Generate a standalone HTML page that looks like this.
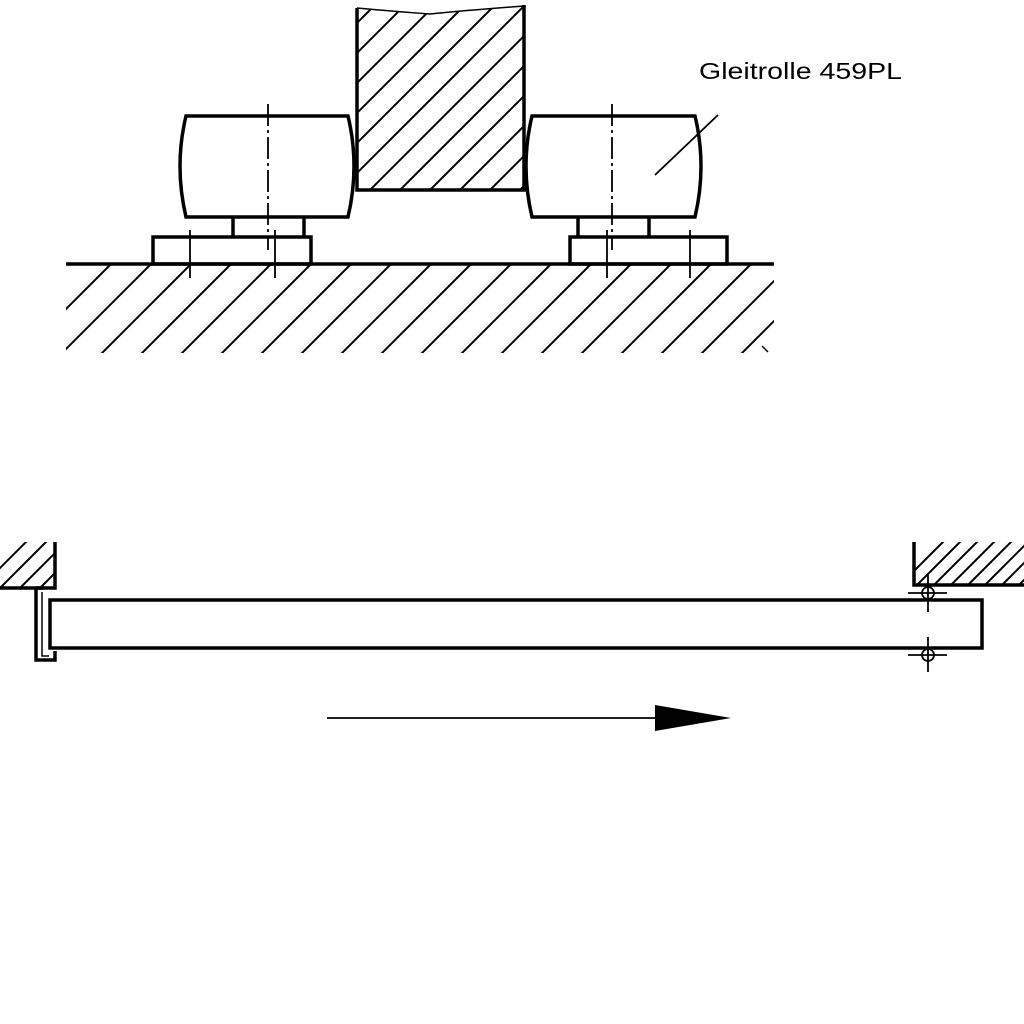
<!DOCTYPE html>
<html><head><meta charset="utf-8"><style>html,body{margin:0;padding:0;background:#fff}svg{display:block}</style></head>
<body>
<svg width="1024" height="1024" viewBox="0 0 1024 1024" xmlns="http://www.w3.org/2000/svg">
<defs>
<clipPath id="cb"><path d="M357,8 Q400,12 430,14 Q470,10 524,6 L524,190 L357,190 Z"/></clipPath>
<clipPath id="gr"><rect x="66" y="265" width="708" height="88"/></clipPath>
<clipPath id="lw"><rect x="0" y="542" width="55" height="46"/></clipPath>
<clipPath id="rw"><rect x="914" y="542" width="110" height="43"/></clipPath>
</defs>
<g stroke="#000" fill="none" stroke-width="2">
<g clip-path="url(#cb)">
<line x1="300" y1="230" x2="540" y2="-10"/><line x1="330" y1="230" x2="570" y2="-10"/><line x1="360" y1="230" x2="600" y2="-10"/><line x1="390" y1="230" x2="630" y2="-10"/><line x1="420" y1="230" x2="660" y2="-10"/><line x1="450" y1="230" x2="690" y2="-10"/><line x1="480" y1="230" x2="720" y2="-10"/><line x1="510" y1="230" x2="750" y2="-10"/><line x1="270" y1="230" x2="510" y2="-10"/><line x1="240" y1="230" x2="480" y2="-10"/><line x1="210" y1="230" x2="450" y2="-10"/><line x1="180" y1="230" x2="420" y2="-10"/><line x1="150" y1="230" x2="390" y2="-10"/>
</g>
<g clip-path="url(#gr)">
<line x1="20" y1="355" x2="110" y2="265"/><line x1="60" y1="355" x2="150" y2="265"/><line x1="100" y1="355" x2="190" y2="265"/><line x1="140" y1="355" x2="230" y2="265"/><line x1="180" y1="355" x2="270" y2="265"/><line x1="220" y1="355" x2="310" y2="265"/><line x1="260" y1="355" x2="350" y2="265"/><line x1="300" y1="355" x2="390" y2="265"/><line x1="340" y1="355" x2="430" y2="265"/><line x1="380" y1="355" x2="470" y2="265"/><line x1="420" y1="355" x2="510" y2="265"/><line x1="460" y1="355" x2="550" y2="265"/><line x1="500" y1="355" x2="590" y2="265"/><line x1="540" y1="355" x2="630" y2="265"/><line x1="580" y1="355" x2="670" y2="265"/><line x1="620" y1="355" x2="710" y2="265"/><line x1="660" y1="355" x2="750" y2="265"/><line x1="700" y1="355" x2="790" y2="265"/><line x1="740" y1="355" x2="830" y2="265"/>
</g>
<g clip-path="url(#lw)">
<line x1="-20" y1="588" x2="30" y2="538"/><line x1="0" y1="588" x2="50" y2="538"/><line x1="20" y1="588" x2="70" y2="538"/><line x1="40" y1="588" x2="90" y2="538"/>
</g>
<g clip-path="url(#rw)">
<line x1="900" y1="585" x2="945" y2="540"/><line x1="917" y1="585" x2="962" y2="540"/><line x1="934" y1="585" x2="979" y2="540"/><line x1="951" y1="585" x2="996" y2="540"/><line x1="968" y1="585" x2="1013" y2="540"/><line x1="985" y1="585" x2="1030" y2="540"/><line x1="1002" y1="585" x2="1047" y2="540"/><line x1="1019" y1="585" x2="1064" y2="540"/>
</g>
</g>
<g stroke="#000" fill="none" stroke-width="3.5">
<path d="M357,8 L357,190 L524,190 L524,5"/>
<path d="M357,8 Q400,12 430,14 Q470,10 524,6" stroke-width="1.5"/>
<path d="M186,116 L348,116 Q360,166 348,217 L186,217 Q174,166 186,116 Z"/>
<path d="M233,217 V237 M304,217 V237"/>
<rect x="153" y="237" width="158" height="27"/>
<path d="M532,116 L695,116 Q707,166 695,217 L532,217 Q520,166 532,116 Z"/>
<path d="M578,217 V237 M649,217 V237"/>
<rect x="570" y="237" width="157" height="27"/>
<line x1="66" y1="264" x2="774" y2="264"/>
<line x1="762" y1="346" x2="768" y2="352" stroke-width="1.5"/>
<rect x="50" y="600" width="932" height="48"/>
<path d="M55,542 V588 H0"/>
<path d="M36,588 V660 H55 V651 M36,588 H44"/>
<path d="M42,592 V656 H49" stroke-width="1.5"/>
<path d="M914,542 V585 H1024"/>
</g>
<g stroke="#000" fill="none" stroke-width="1.8">
<path d="M268,104 V250" stroke-dasharray="22,4,3,4"/>
<path d="M612,104 V250" stroke-dasharray="22,4,3,4"/>
<path d="M190,230 V278 M275,230 V278 M607,230 V278 M690,230 V278"/>
<line x1="718" y1="115" x2="655" y2="175"/>
<circle cx="928" cy="593" r="6"/><circle cx="928" cy="655" r="6"/>
<path d="M908,593 H947 M928,575 V612 M908,655 H947 M928,637 V672"/>
<line x1="327" y1="718" x2="665" y2="718"/>
</g>
<path d="M655,705 L731,718 L655,731 Z" fill="#000"/>
<text x="699" y="79" font-family="Liberation Sans, sans-serif" font-size="23" textLength="203" lengthAdjust="spacingAndGlyphs">Gleitrolle 459PL</text>
</svg>
</body></html>
